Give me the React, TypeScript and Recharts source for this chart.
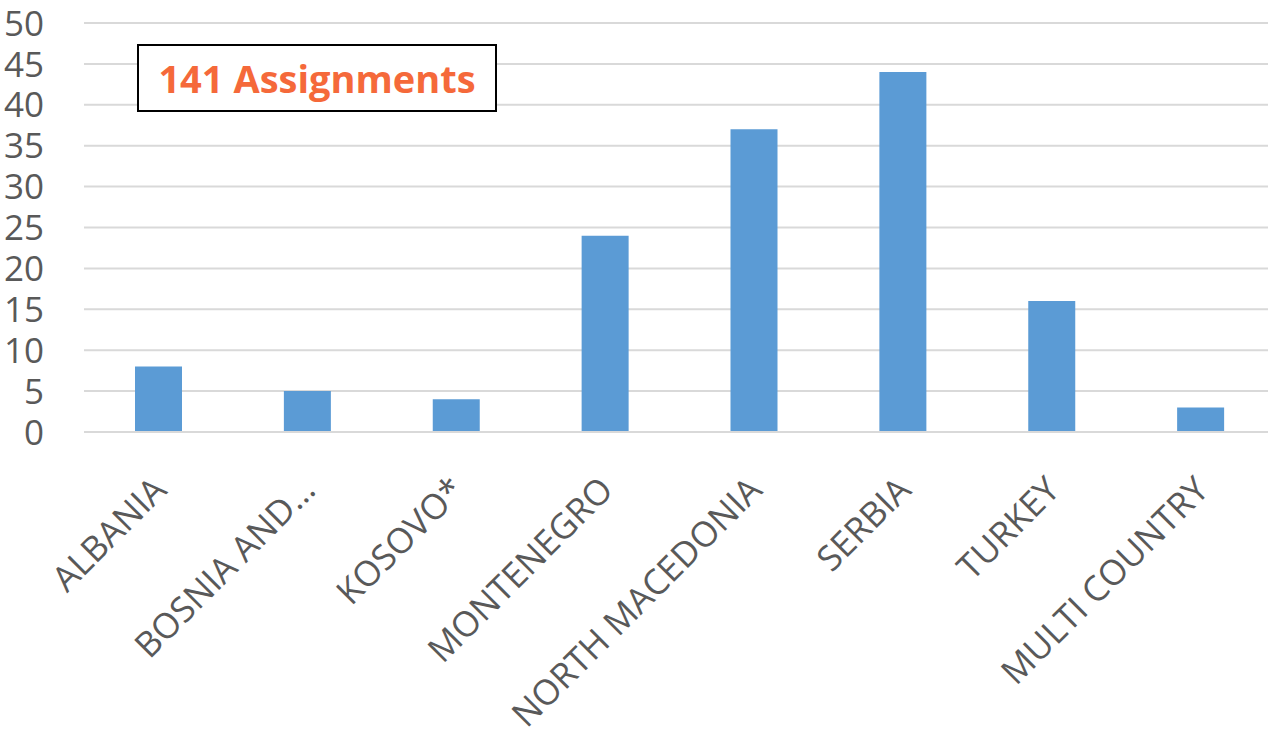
import React from "react";
import { BarChart, Bar, XAxis, YAxis, CartesianGrid } from "recharts";

const categories = [
  "ALBANIA",
  "BOSNIA AND…",
  "KOSOVO*",
  "MONTENEGRO",
  "NORTH MACEDONIA",
  "SERBIA",
  "TURKEY",
  "MULTI COUNTRY",
];
const assignments = [8, 5, 4, 24, 37, 44, 16, 3];
const yTicks = [0, 5, 10, 15, 20, 25, 30, 35, 40, 45, 50];
const boxLabel = "141 Assignments";

const data = categories.map((c, i) => ({ name: c, value: assignments[i] }));

const FONT = "'Open Sans', 'Noto Sans', sans-serif";
const TEXT = "#595959";

const XTick = (props: any) => {
  const { x, payload } = props;
  const bx = x + 10;
  const by = 492;
  return (
    <text
      x={bx}
      y={by}
      textAnchor="end"
      transform={`rotate(-45, ${bx}, ${by})`}
      fill={TEXT}
      fontSize={35}
      fontFamily={FONT}
    >
      {payload.value}
    </text>
  );
};

const YTick = (props: any) => {
  const { y, payload } = props;
  return (
    <text
      x={44}
      y={y}
      dy="0.36em"
      textAnchor="end"
      fill={TEXT}
      fontSize={35}
      fontFamily={FONT}
    >
      {payload.value}
    </text>
  );
};

export default function App() {
  return (
    <div style={{ position: "absolute", left: 0, top: 0, width: 1268, height: 737, background: "#fff", overflow: "hidden" }}>
      <BarChart
        width={1275}
        height={737}
        data={data}
        margin={{ top: 23, right: 0, left: 0, bottom: 0 }}
      >
        <CartesianGrid vertical={false} stroke="#D9D9D9" strokeWidth={2} />
        <XAxis
          dataKey="name"
          height={305}
          interval={0}
          tickLine={false}
          axisLine={{ stroke: "#D9D9D9", strokeWidth: 2 }}
          tick={<XTick />}
        />
        <YAxis
          width={84}
          domain={[0, 50]}
          ticks={yTicks}
          interval={0}
          tickLine={false}
          axisLine={false}
          tick={<YTick />}
        />
        <Bar dataKey="value" fill="#5B9BD5" barSize={47} isAnimationActive={false} />
      </BarChart>
      <div
        style={{
          position: "absolute",
          left: 137,
          top: 44,
          width: 356,
          height: 64,
          border: "2px solid #000",
          background: "#fff",
          display: "flex",
          alignItems: "center",
          justifyContent: "center",
          fontFamily: FONT,
          fontWeight: 700,
          fontSize: 38,
          color: "#F5693A",
        }}
      >
        {boxLabel}
      </div>
    </div>
  );
}
